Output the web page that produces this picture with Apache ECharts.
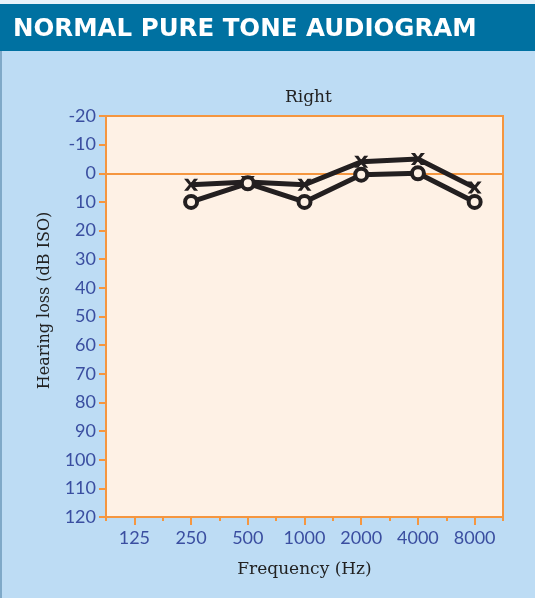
<!DOCTYPE html>
<html><head><meta charset="utf-8">
<script src="https://cdn.jsdelivr.net/npm/echarts@6/dist/echarts.min.js"></script>
<style>html,body{margin:0;padding:0;background:#bddcf4}#c{width:535px;height:598px}</style>
</head><body><div id="c"></div>
<script>
const frequencies = ['125','250','500','1000','2000','4000','8000'];
const crossValues = [null, 4, 3, 4, -4, -5, 5];
const circleValues = [null, 10, 3.5, 10, 0.5, 0, 10];
const yMin = -20, yMax = 120, yStep = 10;

const orange = '#f5963f';
const labelBlue = '#3a4ea0';
const ink = '#231f20';
const xPath = 'path://M0,0 L3.5,0 L6,3.6 L8.5,0 L12,0 L7.8,5.5 L12,11 L8.5,11 L6,7.4 L3.5,11 L0,11 L4.2,5.5 Z';

const chart = echarts.init(document.getElementById('c'), null, {renderer:'canvas'});
chart.setOption({
  backgroundColor: '#bddcf4',
  animation: false,
  graphic: [
    {type:'rect', shape:{x:0,y:0,width:535,height:4}, style:{fill:'#e8f2fa'}, silent:true},
    {type:'rect', shape:{x:0,y:4,width:535,height:47}, style:{fill:'#0071a1'}, silent:true},
    {type:'rect', shape:{x:0,y:51,width:2,height:547}, style:{fill:'#7fa9c8'}, silent:true}
  ],
  title: [
    {text:'NORMAL PURE TONE AUDIOGRAM', left:8, top:12,
     textStyle:{color:'#ffffff', fontFamily:'DejaVu Sans', fontWeight:'bold', fontSize:24.5}},
    {text:'Right', left:280, top:84,
     textStyle:{color:'#222', fontFamily:'DejaVu Serif', fontWeight:'normal', fontSize:17}}
  ],
  grid: {left:106, right:32, top:116, bottom:81, show:true, backgroundColor:'#fef1e5', borderColor:orange, borderWidth:2},
  xAxis: [
    {type:'category', data:frequencies, boundaryGap:true, position:'bottom',
     name:'Frequency (Hz)', nameLocation:'middle', nameGap:44,
     nameTextStyle:{color:'#222', fontFamily:'DejaVu Serif', fontSize:17},
     axisLine:{onZero:false, lineStyle:{color:orange, width:2}},
     axisTick:{show:true, length:4, lineStyle:{color:orange, width:2}},
     axisLabel:{color:labelBlue, fontFamily:'Lato', fontSize:18, margin:12},
     splitLine:{show:false}},
    {type:'category', data:frequencies, boundaryGap:true, position:'bottom',
     axisLine:{show:false, onZero:false},
     axisTick:{show:true, alignWithLabel:true, length:8, lineStyle:{color:orange, width:2}},
     axisLabel:{show:false}, splitLine:{show:false}}
  ],
  yAxis: {type:'value', inverse:true, min:yMin, max:yMax, interval:yStep,
    name:'Hearing loss (dB ISO)', nameLocation:'middle', nameGap:53, nameRotate:90,
    nameTextStyle:{color:'#222', fontFamily:'DejaVu Serif', fontSize:16, padding:[0,0,0,32]},
    axisLine:{show:true, lineStyle:{color:orange, width:2}},
    axisTick:{show:true, length:7, lineStyle:{color:orange, width:2}},
    axisLabel:{color:labelBlue, fontFamily:'Lato', fontSize:18, margin:10},
    splitLine:{show:false}},
  series: [
    {type:'line', name:'X', data:crossValues, xAxisIndex:0, connectNulls:false,
     symbol:xPath, symbolSize:[14,12], lineStyle:{color:ink, width:5},
     itemStyle:{color:ink}, z:3,
     markLine:{silent:true, symbol:'none', label:{show:false},
       lineStyle:{color:orange, width:2, type:'solid'}, data:[{yAxis:0}], z:1}},
    {type:'line', name:'O', data:circleValues, xAxisIndex:0,
     symbol:'circle', symbolSize:12, lineStyle:{color:ink, width:5},
     itemStyle:{color:'#fef1e5', borderColor:ink, borderWidth:4}, z:4}
  ]
});
</script></body></html>
